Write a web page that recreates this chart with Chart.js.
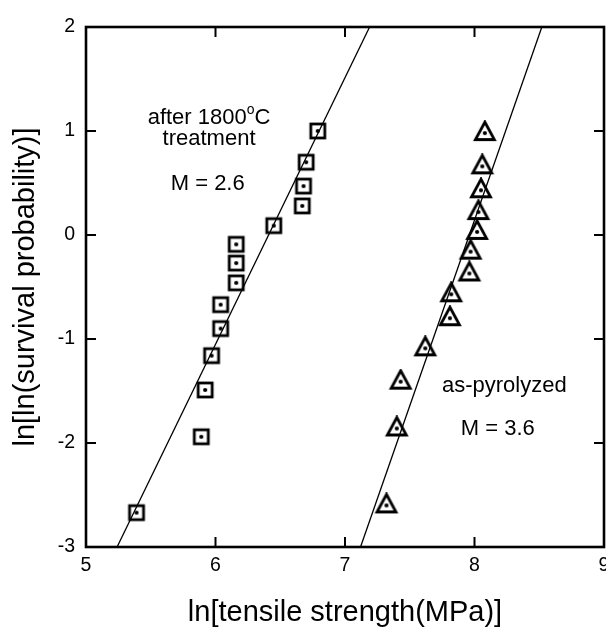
<!DOCTYPE html>
<html>
<head>
<meta charset="utf-8">
<script src="https://cdn.jsdelivr.net/npm/chart.js@4.4.1/dist/chart.umd.min.js"></script>
<style>
  html, body { margin: 0; background: #fff; overflow: hidden; }
  #wrap { width: 614px; height: 630px; }
</style>
</head>
<body>
<div id="wrap"><canvas id="weibull"></canvas></div>
<script>
// after 1800C treatment (squares)
const treatedX = [5.39, 5.89, 5.92, 5.97, 6.04, 6.04, 6.16, 6.16, 6.16, 6.45, 6.67, 6.68, 6.70, 6.79];
const treatedY = [-2.67, -1.94, -1.49, -1.16, -0.90, -0.67, -0.46, -0.27, -0.09, 0.09, 0.28, 0.47, 0.70, 1.00];
// as-pyrolyzed (triangles)
const pyroX = [7.32, 7.40, 7.43, 7.62, 7.81, 7.82, 7.96, 7.97, 8.02, 8.03, 8.05, 8.06, 8.08];
const pyroY = [-2.60, -1.86, -1.41, -1.09, -0.80, -0.57, -0.37, -0.16, 0.03, 0.22, 0.43, 0.66, 0.98];
// fitted lines (endpoints at y = -3 and y = 2)
const fitTreatedX = [5.24, 7.19];
const fitPyroX = [7.12, 8.52];
const fitY = [-3, 2];
const xTicks = [5, 6, 7, 8, 9];
const yTicks = [-3, -2, -1, 0, 1, 2];

const FONT = '"Liberation Sans", Arial, sans-serif';

function pts(xs, ys) { return xs.map((x, i) => ({ x: x, y: ys[i] })); }

function squareMarker() {
  const c = document.createElement('canvas');
  c.width = 22; c.height = 22;
  const g = c.getContext('2d');
  g.fillStyle = '#fff';
  g.fillRect(4, 4, 14, 14);
  g.strokeStyle = '#000';
  g.lineWidth = 2.8;
  g.strokeRect(4, 4, 14, 14);
  g.fillStyle = '#000';
  g.beginPath(); g.arc(11, 11, 2.1, 0, Math.PI * 2); g.fill();
  return c;
}

function triangleMarker() {
  const c = document.createElement('canvas');
  c.width = 26; c.height = 26;
  const g = c.getContext('2d');
  g.strokeStyle = '#000';
  g.fillStyle = '#fff';
  g.lineWidth = 2.8;
  g.beginPath();
  g.moveTo(13, 2);
  g.lineTo(22.5, 19.5);
  g.lineTo(3.5, 19.5);
  g.closePath();
  g.fill();
  g.stroke();
  g.fillStyle = '#000';
  g.beginPath(); g.arc(13, 13, 2.1, 0, Math.PI * 2); g.fill();
  return c;
}

const frameAndNotes = {
  id: 'frameAndNotes',
  afterDatasetsDraw(chart) {
    const { ctx, chartArea: a, scales } = chart;
    const xs = scales.x, ys = scales.y;
    ctx.save();
    ctx.strokeStyle = '#000';
    ctx.lineWidth = 2.6;
    ctx.strokeRect(a.left, a.top, a.right - a.left, a.bottom - a.top);
    ctx.lineWidth = 2;
    const tl = 10;
    xTicks.slice(1, -1).forEach(v => {
      const px = xs.getPixelForValue(v);
      ctx.beginPath();
      ctx.moveTo(px, a.bottom); ctx.lineTo(px, a.bottom - tl);
      ctx.moveTo(px, a.top); ctx.lineTo(px, a.top + tl);
      ctx.stroke();
    });
    yTicks.slice(1, -1).forEach(v => {
      const py = ys.getPixelForValue(v);
      ctx.beginPath();
      ctx.moveTo(a.left, py); ctx.lineTo(a.left + tl, py);
      ctx.moveTo(a.right, py); ctx.lineTo(a.right - tl, py);
      ctx.stroke();
    });

    ctx.fillStyle = '#000';
    ctx.textBaseline = 'middle';
    ctx.textAlign = 'left';
    const big = '22px ' + FONT, small = '14px ' + FONT;
    // after 1800°C (superscript o)
    ctx.font = big;
    const w1 = ctx.measureText('after 1800').width;
    ctx.font = small;
    const w2 = ctx.measureText('o').width;
    ctx.font = big;
    const w3 = ctx.measureText('C').width;
    let cx = xs.getPixelForValue(5.95) - (w1 + w2 + w3) / 2;
    const cy = ys.getPixelForValue(1.13);
    ctx.fillText('after 1800', cx, cy);
    ctx.font = small;
    ctx.fillText('o', cx + w1, cy - 7);
    ctx.font = big;
    ctx.fillText('C', cx + w1 + w2, cy);

    ctx.textAlign = 'center';
    ctx.fillText('treatment', xs.getPixelForValue(5.95), ys.getPixelForValue(0.92));
    ctx.fillText('M = 2.6', xs.getPixelForValue(5.94), ys.getPixelForValue(0.49));
    ctx.fillText('as-pyrolyzed', xs.getPixelForValue(8.23), ys.getPixelForValue(-1.45));
    ctx.fillText('M = 3.6', xs.getPixelForValue(8.18), ys.getPixelForValue(-1.86));
    ctx.restore();
  }
};

const ctx = document.getElementById('weibull').getContext('2d');

new Chart(ctx, {
  type: 'scatter',
  data: {
    datasets: [
      {
        label: 'fit treated',
        data: pts(fitTreatedX, fitY),
        showLine: true,
        borderColor: '#000',
        borderWidth: 1.3,
        pointRadius: 0
      },
      {
        label: 'fit as-pyrolyzed',
        data: pts(fitPyroX, fitY),
        showLine: true,
        borderColor: '#000',
        borderWidth: 1.3,
        pointRadius: 0
      },
      {
        label: 'after 1800C treatment',
        data: pts(treatedX, treatedY),
        pointStyle: squareMarker(),
        pointRadius: 8
      },
      {
        label: 'as-pyrolyzed',
        data: pts(pyroX, pyroY),
        pointStyle: triangleMarker(),
        pointRadius: 9
      }
    ]
  },
  options: {
    responsive: true,
    maintainAspectRatio: false,
    animation: false,
    layout: { padding: { top: 27, right: 0, bottom: 0, left: 0 } },
    plugins: {
      legend: { display: false },
      tooltip: { enabled: false }
    },
    scales: {
      x: {
        type: 'linear',
        min: 5,
        max: 9,
        afterBuildTicks: s => { s.ticks = xTicks.map(v => ({ value: v })); },
        grid: { display: false, drawTicks: false },
        border: { display: false },
        ticks: { color: '#000', font: { family: FONT, size: 19.5 }, padding: 7 },
        title: {
          display: true,
          text: 'ln[tensile strength(MPa)]',
          color: '#000',
          font: { family: FONT, size: 29 },
          padding: { top: 2, bottom: 0 }
        },
        afterFit: s => { s.height = 83; s.paddingLeft = 0; s.paddingRight = 0; }
      },
      y: {
        type: 'linear',
        min: -3,
        max: 2,
        afterBuildTicks: s => { s.ticks = yTicks.map(v => ({ value: v })); },
        grid: { display: false, drawTicks: false },
        border: { display: false },
        ticks: { color: '#000', font: { family: FONT, size: 19.5 }, padding: 11 },
        title: {
          display: true,
          text: 'ln[ln(survival probability)]',
          color: '#000',
          font: { family: FONT, size: 29 },
          padding: { top: 9, bottom: 0 }
        },
        afterFit: s => { s.width = 86; s.paddingTop = 0; s.paddingBottom = 0; }
      }
    }
  },
  plugins: [frameAndNotes]
});
</script>
</body>
</html>
